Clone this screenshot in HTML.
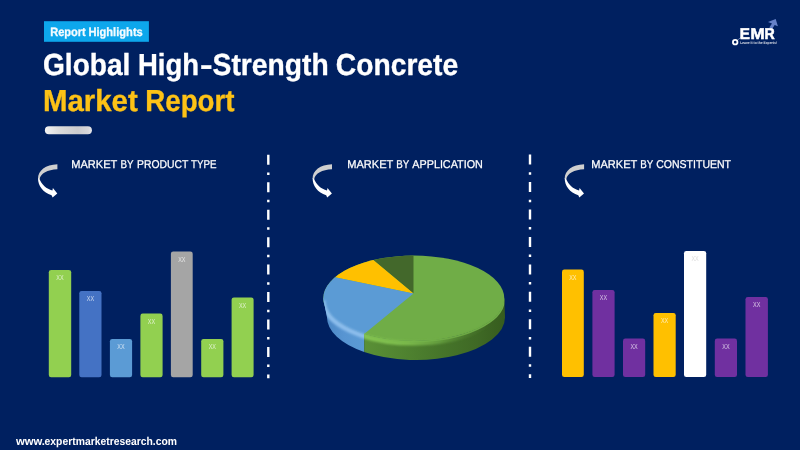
<!DOCTYPE html>
<html lang="en">
<head>
<meta charset="utf-8">
<title>Global High-Strength Concrete Market Report</title>
<style>
html,body{margin:0;padding:0;background:#002060;}
body{width:800px;height:450px;overflow:hidden;font-family:"Liberation Sans",sans-serif;}
svg{display:block;}
svg text{text-rendering:geometricPrecision;}
.t{font-family:"Liberation Sans",sans-serif;}
.b{font-weight:bold;}
.xx{font-family:"Liberation Sans",sans-serif;font-size:7.4px;fill:#ffffff;fill-opacity:.72;text-anchor:middle;}
.hd{font-family:"Liberation Sans",sans-serif;font-size:11.3px;fill:#ffffff;stroke:#ffffff;stroke-width:.25px;}
</style>
</head>
<body>
<svg width="800" height="450" viewBox="0 0 800 450">
<defs>
  <linearGradient id="pill" x1="0" y1="0" x2="1" y2="0">
    <stop offset="0" stop-color="#f3f3f3"/>
    <stop offset="0.3" stop-color="#dbdbdb"/>
    <stop offset="0.7" stop-color="#cbcbce"/>
    <stop offset="0.92" stop-color="#d6d6da"/>
    <stop offset="1" stop-color="#e6e6ea"/>
  </linearGradient>
  <linearGradient id="arr" x1="0" y1="0" x2="0" y2="1">
    <stop offset="0" stop-color="#c9c9c9"/>
    <stop offset="0.4" stop-color="#d9d9d9"/>
    <stop offset="0.6" stop-color="#ffffff"/>
    <stop offset="1" stop-color="#ffffff"/>
  </linearGradient>
  <g id="curve">
    <path d="M57.4,164.2 C45.5,164.6 38,170.6 38,178.6 L39.6,179.2 C40.6,173.4 47.4,169.7 57.4,169.3 Z" fill="#cfcfcf"/>
    <path d="M38,178 C38,186 43,192.4 51.6,195.3 L52.6,197.6 L57.3,193.4 L52.9,187.9 L52.4,190.6 C46.6,189 41.4,184.6 39.4,178.8 Z" fill="#ffffff"/>
  </g>
</defs>

<rect x="0" y="0" width="800" height="450" fill="#002060"/>

<!-- badge -->
<rect x="44" y="21.2" width="104.9" height="20.6" fill="#0DA7EC"/>
<text class="t b" y="35.6" font-size="12.2" fill="#f4fbff" stroke="#f4fbff" stroke-width="0.3"><tspan id="b1" x="50.17" textLength="35.62" lengthAdjust="spacingAndGlyphs">Report</tspan> <tspan id="b2" x="88.38" textLength="54.4" lengthAdjust="spacingAndGlyphs">Highlights</tspan></text>

<!-- title -->
<g font-size="30.4" fill="#ffffff" stroke="#ffffff" stroke-width="0.35">
<text class="t b" y="75"><tspan id="t1" x="43.02" textLength="87.41" lengthAdjust="spacingAndGlyphs">Global</tspan> <tspan id="t2" x="138.01" textLength="61.04" lengthAdjust="spacingAndGlyphs">High</tspan><tspan id="t3" x="199.92" textLength="12.63" lengthAdjust="spacingAndGlyphs">-</tspan><tspan id="t4" x="212.59" textLength="116.1" lengthAdjust="spacingAndGlyphs">Strength</tspan> <tspan id="t5" x="335.82" textLength="122.35" lengthAdjust="spacingAndGlyphs">Concrete</tspan></text>
</g>
<g font-size="30.4" fill="#FDC216" stroke="#FDC216" stroke-width="0.35">
<text class="t b" y="111"><tspan id="m1" x="43.0" textLength="94.68" lengthAdjust="spacingAndGlyphs">Market</tspan> <tspan id="m2" x="145.31" textLength="89.24" lengthAdjust="spacingAndGlyphs">Report</tspan></text>
</g>

<!-- pill -->
<rect x="44.9" y="126.2" width="47" height="8" rx="4" ry="4" fill="url(#pill)"/>

<!-- logo -->
<g id="logo">
  <path d="M737.2,40.5 L741.5,36.8" stroke="#9fb0e0" stroke-width="0.8" fill="none" opacity=".75"/>
  <path d="M775.7,19 L777.9,26.3 L774.7,24.9 L772,29 L769.3,27.5 L772,23.5 L768,22.1 Z" fill="#6681C8"/>
  <circle cx="735.2" cy="42.2" r="2.25" fill="none" stroke="#ffffff" stroke-width="1.8"/>
  <g font-size="15.6" fill="#ffffff" stroke="#ffffff" stroke-width="0.55">
  <text class="t b" y="38.62"><tspan id="l1" x="739.82" textLength="10.15" lengthAdjust="spacingAndGlyphs">E</tspan><tspan id="l3" x="750.42" textLength="14.12" lengthAdjust="spacingAndGlyphs">M</tspan><tspan id="l4" x="764.44" textLength="10.2" lengthAdjust="spacingAndGlyphs">R</tspan></text>
      </g>
  <text class="t b" id="l2" x="740.2" y="44.2" font-size="3.8" fill="#ffffff" fill-opacity=".85" textLength="36.67" lengthAdjust="spacingAndGlyphs">Leave it to the Experts!</text>
</g>

<!-- section headers -->
<use href="#curve" x="0" y="0"/>
<text class="hd" y="168"><tspan id="h1a" x="71.25" textLength="45.84" lengthAdjust="spacingAndGlyphs">MARKET</tspan> <tspan id="h1b" x="120.42" textLength="12.91" lengthAdjust="spacingAndGlyphs">BY</tspan> <tspan id="h1c" x="137.01" textLength="51.17" lengthAdjust="spacingAndGlyphs">PRODUCT</tspan> <tspan id="h1d" x="190.93" textLength="25.51" lengthAdjust="spacingAndGlyphs">TYPE</tspan></text>
<use href="#curve" x="274.6" y="0"/>
<text class="hd" y="168"><tspan id="h2a" x="347.25" textLength="45.84" lengthAdjust="spacingAndGlyphs">MARKET</tspan> <tspan id="h2b" x="396.18" textLength="12.84" lengthAdjust="spacingAndGlyphs">BY</tspan> <tspan id="h2c" x="412.31" textLength="70.53" lengthAdjust="spacingAndGlyphs">APPLICATION</tspan></text>
<use href="#curve" x="526.7" y="0"/>
<text class="hd" y="168"><tspan id="h3a" x="591.25" textLength="45.84" lengthAdjust="spacingAndGlyphs">MARKET</tspan> <tspan id="h3b" x="640.18" textLength="12.84" lengthAdjust="spacingAndGlyphs">BY</tspan> <tspan id="h3c" x="656.16" textLength="74.9" lengthAdjust="spacingAndGlyphs">CONSTITUENT</tspan></text>

<!-- dividers -->
<g stroke="#ffffff" stroke-width="2.4" stroke-dasharray="10 7.6 2.5 7.35" fill="none">
  <line x1="268.3" y1="154.8" x2="268.3" y2="378.2"/>
  <line x1="530" y1="154.6" x2="530" y2="378"/>
</g>

<!-- left bar chart -->
<g>
  <rect x="48.8" y="270" width="22.4" height="107.3" rx="2.3" fill="#92D050"/>
  <rect x="79.3" y="291" width="22.2" height="86.3" rx="2.3" fill="#4472C4"/>
  <rect x="109.9" y="339" width="22.2" height="38.3" rx="2.3" fill="#5B9BD5"/>
  <rect x="140.4" y="313.6" width="22.2" height="63.7" rx="2.3" fill="#92D050"/>
  <rect x="170.9" y="251.5" width="21.8" height="125.8" rx="2.3" fill="#A5A5A5"/>
  <rect x="201.2" y="339" width="22.2" height="38.3" rx="2.3" fill="#92D050"/>
  <rect x="231.6" y="297.5" width="22" height="79.8" rx="2.3" fill="#92D050"/>
  <text class="xx" x="60" y="280.4" textLength="7.3" lengthAdjust="spacingAndGlyphs">XX</text>
  <text class="xx" x="90.4" y="301.4" textLength="7.3" lengthAdjust="spacingAndGlyphs">XX</text>
  <text class="xx" x="121" y="349.4" textLength="7.3" lengthAdjust="spacingAndGlyphs">XX</text>
  <text class="xx" x="151.5" y="324.0" textLength="7.3" lengthAdjust="spacingAndGlyphs">XX</text>
  <text class="xx" x="181.8" y="261.9" textLength="7.3" lengthAdjust="spacingAndGlyphs">XX</text>
  <text class="xx" x="212.3" y="349.4" textLength="7.3" lengthAdjust="spacingAndGlyphs">XX</text>
  <text class="xx" x="242.6" y="307.9" textLength="7.3" lengthAdjust="spacingAndGlyphs">XX</text>
</g>


<!-- pie chart -->
<defs>
  <linearGradient id="gside" gradientUnits="userSpaceOnUse" x1="364" y1="0" x2="505" y2="0">
    <stop offset="0" stop-color="#5a9036"/>
    <stop offset="0.3" stop-color="#4f8230"/>
    <stop offset="0.55" stop-color="#46752a"/>
    <stop offset="0.8" stop-color="#3f6925"/>
    <stop offset="1" stop-color="#365c1e"/>
  </linearGradient>
  <linearGradient id="bside" gradientUnits="userSpaceOnUse" x1="323" y1="0" x2="365" y2="0">
    <stop offset="0" stop-color="#4a86c4"/>
    <stop offset="0.5" stop-color="#5895d2"/>
    <stop offset="1" stop-color="#5b9bd5"/>
  </linearGradient>
  <linearGradient id="ghl" gradientUnits="userSpaceOnUse" x1="364" y1="0" x2="505" y2="0">
    <stop offset="0" stop-color="#84c552"/>
    <stop offset="0.3" stop-color="#7cbb4c"/>
    <stop offset="0.52" stop-color="#70ad46" stop-opacity=".75"/>
    <stop offset="0.72" stop-color="#5f963a" stop-opacity=".3"/>
    <stop offset="0.9" stop-color="#4f7f2f" stop-opacity="0"/>
  </linearGradient>
  <clipPath id="topclip"><ellipse cx="413.8" cy="298.3" rx="90.5" ry="42.7"/></clipPath>
  <clipPath id="sil"><path d="M323.3,298.3 A90.5,42.7 0 0 1 504.3,298.3 L505,317.3 A89,42.7 0 0 1 327,317.3 Z"/></clipPath>
  <clipPath id="bclip"><rect x="320" y="290" width="44.2" height="80"/></clipPath>
  <clipPath id="gclip"><rect x="364.2" y="290" width="150" height="80"/></clipPath>
  <filter id="bl" x="-10%" y="-30%" width="120%" height="160%"><feGaussianBlur stdDeviation="1.3"/></filter>
</defs>
<g id="pie">
  <!-- sides -->
  <path d="M323.3,298.3 A90.5,42.7 0 0 0 364.2,334.02 L364.2,352.02 A89,42.7 0 0 1 327,317.3 Z" fill="url(#bside)"/>
  <path d="M364.2,334.02 A90.5,42.7 0 0 0 504.3,298.3 L505,317.3 A89,42.7 0 0 1 364.2,352.02 Z" fill="url(#gside)"/>
  <!-- top -->
  <g clip-path="url(#topclip)">
    <rect x="320" y="250" width="190" height="95" fill="#70AD47"/>
    <path d="M413.5,293.6 L413.5,250 L360,250 L373.3,260.11 Z" fill="#43682B"/>
    <path d="M413.5,293.6 L373.3,260.11 L360,250 L318,250 L318,273.8 L335,277.3 Z" fill="#FFC000"/>
    <path d="M413.5,293.6 L335,277.3 L318,273.8 L318,345 L355,345 L364.2,334.02 Z" fill="#5B9BD5"/>
  </g>
  <!-- bevel highlight -->
  <g clip-path="url(#sil)">
    <g clip-path="url(#bclip)"><path d="M323.3,298.8 A90.5,42.7 0 0 0 413.8,341.5" fill="none" stroke="#5B9BD5" stroke-width="1.6"/></g>
    <g clip-path="url(#gclip)"><path d="M323.3,298.8 A90.5,42.7 0 0 0 504.3,298.8" fill="none" stroke="#70AD47" stroke-width="1.6"/></g>
    <g clip-path="url(#bclip)"><path d="M323.3,300.6 A90.5,42.7 0 0 0 413.8,343.3" fill="none" stroke="#8cbdec" stroke-width="4.5" filter="url(#bl)"/></g>
    <g clip-path="url(#gclip)"><path d="M323.3,300.6 A90.5,42.7 0 0 0 504.3,300.6" fill="none" stroke="url(#ghl)" stroke-width="4.5" filter="url(#bl)"/></g>
  </g>
</g>

<!-- right bar chart -->
<g>
  <rect x="562" y="269.6" width="21.8" height="107.4" rx="2.3" fill="#FFC000"/>
  <rect x="592.4" y="290" width="22.2" height="87" rx="2.3" fill="#7030A0"/>
  <rect x="623" y="338.6" width="22.2" height="38.4" rx="2.3" fill="#7030A0"/>
  <rect x="653.5" y="313" width="22.2" height="64" rx="2.3" fill="#FFC000"/>
  <rect x="684" y="251" width="22.2" height="126" rx="2.3" fill="#FFFFFF"/>
  <rect x="714.8" y="338.6" width="22.2" height="38.4" rx="2.3" fill="#7030A0"/>
  <rect x="745.5" y="297" width="22.4" height="80" rx="2.3" fill="#7030A0"/>
  <text class="xx" x="572.8" y="279.6" textLength="7.3" lengthAdjust="spacingAndGlyphs">XX</text>
  <text class="xx" x="603.5" y="300.2" textLength="7.3" lengthAdjust="spacingAndGlyphs">XX</text>
  <text class="xx" x="634.1" y="348.8" textLength="7.3" lengthAdjust="spacingAndGlyphs">XX</text>
  <text class="xx" x="664.6" y="323.2" textLength="7.3" lengthAdjust="spacingAndGlyphs">XX</text>
  <text class="xx" x="695.1" y="261.2" style="fill:#dcdcdc;fill-opacity:1" textLength="7.3" lengthAdjust="spacingAndGlyphs">XX</text>
  <text class="xx" x="725.9" y="348.8" textLength="7.3" lengthAdjust="spacingAndGlyphs">XX</text>
  <text class="xx" x="756.7" y="307.2" textLength="7.3" lengthAdjust="spacingAndGlyphs">XX</text>
</g>

<!-- footer -->
<text class="t b" y="444.8" font-size="11.3" fill="#ffffff"><tspan id="f1" x="15.9" textLength="29.11" lengthAdjust="spacingAndGlyphs">www.</tspan><tspan id="f2" x="44.57" textLength="132.48" lengthAdjust="spacingAndGlyphs">expertmarketresearch.com</tspan></text>
</svg>
</body>
</html>
